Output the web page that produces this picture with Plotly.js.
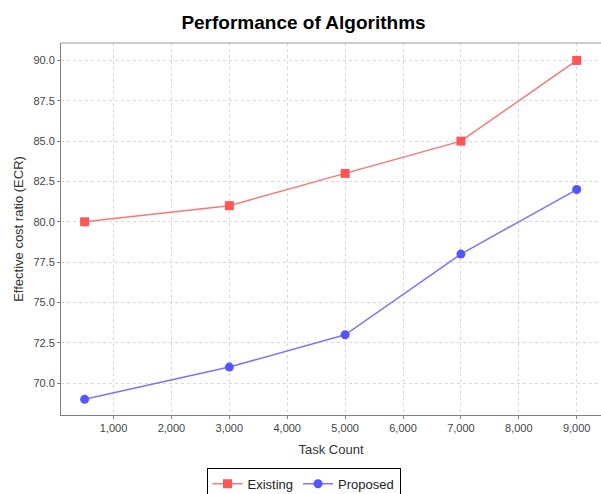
<!DOCTYPE html>
<html>
<head>
<meta charset="utf-8">
<script src="https://cdn.plot.ly/plotly-3.0.1.min.js"></script>
<style>html,body{margin:0;padding:0;background:#fff;}#chart{width:601px;height:494px;}</style>
</head>
<body>
<div id="chart"></div>
<script>
const taskCounts = [500, 3000, 5000, 7000, 9000];
const existingECR = [80, 81, 83, 85, 90];
const proposedECR = [69, 71, 73, 78, 82];
const xTickVals = [1000, 2000, 3000, 4000, 5000, 6000, 7000, 8000, 9000];
const xTickText = ["1,000", "2,000", "3,000", "4,000", "5,000", "6,000", "7,000", "8,000", "9,000"];
const yTickVals = [70, 72.5, 75, 77.5, 80, 82.5, 85, 87.5, 90];
const yTickText = ["70.0", "72.5", "75.0", "77.5", "80.0", "82.5", "85.0", "87.5", "90.0"];

const traces = [
  {
    x: taskCounts, y: existingECR, name: "Existing", type: "scatter", mode: "lines+markers",
    line: {color: "rgba(245,120,120,1)", width: 1.5},
    marker: {symbol: "square", size: 9, color: "#ff5555"}
  },
  {
    x: taskCounts, y: proposedECR, name: "Proposed", type: "scatter", mode: "lines+markers",
    line: {color: "rgba(120,120,245,1)", width: 1.5},
    marker: {symbol: "circle", size: 9, color: "#5555ff"}
  }
];

const layout = {
  width: 601, height: 494,
  margin: {l: 61, r: 0, t: 43, b: 79},
  paper_bgcolor: "#ffffff", plot_bgcolor: "#ffffff",
  font: {family: "Liberation Sans, Arial, sans-serif", color: "#333"},
  title: {text: "<b>Performance of Algorithms</b>", font: {size: 19, color: "#000", family: "Liberation Sans, Arial, sans-serif"},
          xref: "container", x: 0.505, xanchor: "center", yref: "container", y: 0.955, yanchor: "middle"},
  xaxis: {
    range: [92, 9420], tickvals: xTickVals, ticktext: xTickText,
    showgrid: true, gridcolor: "#d8d8d8", griddash: "3px,3px", gridwidth: 1,
    showline: true, linecolor: "#808080", linewidth: 1, mirror: false,
    ticks: "outside", ticklen: 3, tickcolor: "#808080",
    tickfont: {size: 11, color: "#444"}, zeroline: false,
    title: {text: "Task Count", font: {size: 13, color: "#333"}, standoff: 11}
  },
  yaxis: {
    range: [68.03, 91.08], tickvals: yTickVals, ticktext: yTickText,
    showgrid: true, gridcolor: "#d8d8d8", griddash: "3px,3px", gridwidth: 1,
    showline: true, linecolor: "#808080", linewidth: 1,
    ticks: "outside", ticklen: 3, tickcolor: "#808080",
    tickfont: {size: 11, color: "#444"}, zeroline: false,
    title: {text: "Effective cost ratio (ECR)", font: {size: 13, color: "#333"}, standoff: 6}
  },
  shapes: [
    {type: "line", xref: "paper", yref: "paper", x0: 0, x1: 1, y0: 1, y1: 1, line: {color: "#999", width: 1}}
  ],
  showlegend: true,
  legend: {
    orientation: "h", xref: "container", yref: "container", x: 0.505, xanchor: "center", y: 0.053, yanchor: "top",
    bordercolor: "#000", borderwidth: 1, bgcolor: "#fff",
    font: {size: 13, color: "#222"}, itemwidth: 30, tracegroupgap: 0
  }
};

Plotly.newPlot("chart", traces, layout, {displayModeBar: false, staticPlot: true});
</script>
</body>
</html>
